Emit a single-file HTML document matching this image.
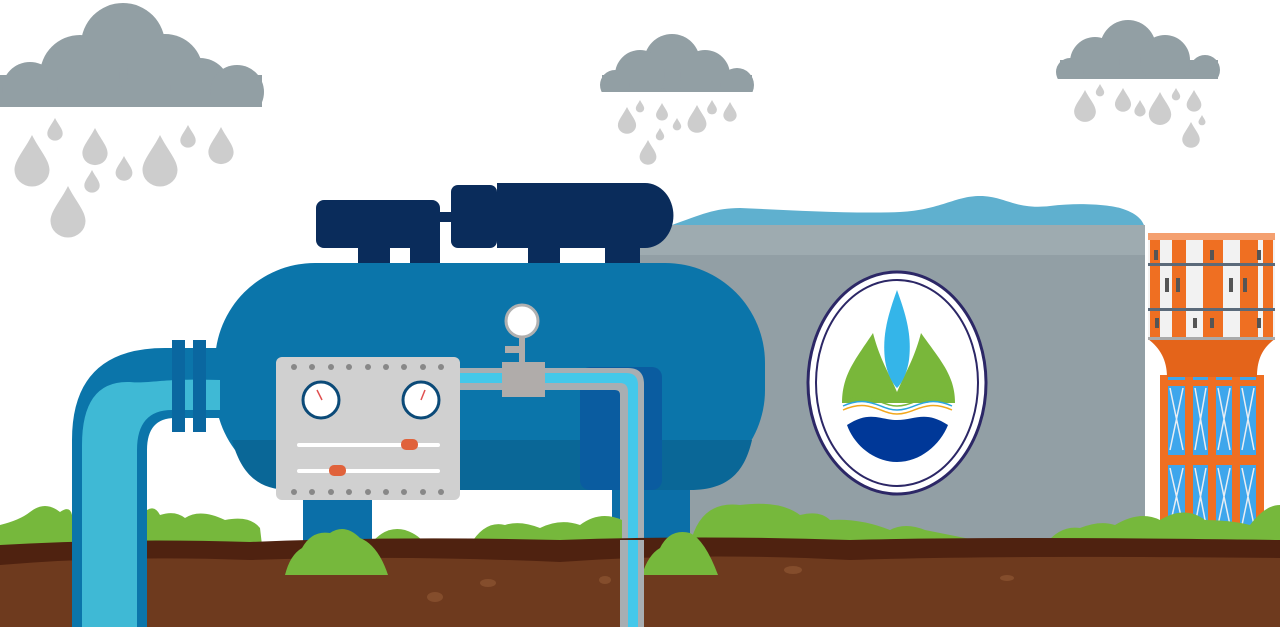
<!DOCTYPE html>
<html><head><meta charset="utf-8"><style>html,body{margin:0;padding:0;background:#fff}svg{display:block}</style></head>
<body>
<svg width="1280" height="627" viewBox="0 0 1280 627" xmlns="http://www.w3.org/2000/svg">
<defs>
<path id="d" d="M0,0 C0.15,0.3 0.35,0.5 0.35,0.7 A0.35,0.33 0 0 1 -0.35,0.7 C-0.35,0.5 -0.15,0.3 0,0Z" fill="#cdcdcd"/>
<clipPath id="c1"><rect x="0" y="0" width="270" height="107"/></clipPath>
<clipPath id="c2"><rect x="590" y="0" width="170" height="92"/></clipPath>
<clipPath id="c3"><rect x="1050" y="0" width="180" height="79"/></clipPath>
</defs>
<!-- clouds -->
<g fill="#929fa4">
<g clip-path="url(#c1)">
<rect x="0" y="75" width="262" height="32"/>
<circle cx="123" cy="45" r="42"/><circle cx="80" cy="75" r="40"/><circle cx="30" cy="90" r="28"/>
<circle cx="165" cy="72" r="38"/><circle cx="200" cy="88" r="30"/><circle cx="237" cy="92" r="27"/>
</g>
<g clip-path="url(#c2)">
<rect x="602" y="75" width="150" height="17"/>
<circle cx="672" cy="62" r="28"/><circle cx="640" cy="75" r="25"/><circle cx="615" cy="85" r="15"/><circle cx="705" cy="75" r="25"/><circle cx="737" cy="85" r="17"/>
</g>
<g clip-path="url(#c3)">
<rect x="1060" y="60" width="158" height="19"/>
<circle cx="1128" cy="48" r="28"/><circle cx="1095" cy="62" r="25"/><circle cx="1070" cy="72" r="14"/><circle cx="1165" cy="60" r="25"/><circle cx="1205" cy="70" r="15"/>
</g>
</g>
<g>
<use href="#d" transform="translate(55,118) scale(22)"/>
<use href="#d" transform="translate(32,135) scale(50)"/>
<use href="#d" transform="translate(95,128) scale(36)"/>
<use href="#d" transform="translate(92,170) scale(22)"/>
<use href="#d" transform="translate(124,156) scale(24)"/>
<use href="#d" transform="translate(160,135) scale(50)"/>
<use href="#d" transform="translate(188,125) scale(22)"/>
<use href="#d" transform="translate(221,127) scale(36)"/>
<use href="#d" transform="translate(68,186) scale(50)"/>
<use href="#d" transform="translate(640,100) scale(12)"/>
<use href="#d" transform="translate(627,107) scale(26)"/>
<use href="#d" transform="translate(662,103) scale(17)"/>
<use href="#d" transform="translate(697,105) scale(27)"/>
<use href="#d" transform="translate(677,118) scale(12)"/>
<use href="#d" transform="translate(712,100) scale(14)"/>
<use href="#d" transform="translate(730,102) scale(19)"/>
<use href="#d" transform="translate(660,128) scale(12)"/>
<use href="#d" transform="translate(648,140) scale(24)"/>
<use href="#d" transform="translate(1085,90) scale(31)"/>
<use href="#d" transform="translate(1100,84) scale(12)"/>
<use href="#d" transform="translate(1123,88) scale(23)"/>
<use href="#d" transform="translate(1140,100) scale(16)"/>
<use href="#d" transform="translate(1160,92) scale(32)"/>
<use href="#d" transform="translate(1176,88) scale(12)"/>
<use href="#d" transform="translate(1194,90) scale(21)"/>
<use href="#d" transform="translate(1202,115) scale(10)"/>
<use href="#d" transform="translate(1191,122) scale(25)"/>
</g>
<!-- gray water tank -->
<path d="M672,225 C700,215 715,208 740,208 C790,210 850,214 900,212 C940,210 955,196 980,196 C1005,196 1015,210 1050,206 C1080,202 1110,205 1120,208 C1140,214 1143,222 1145,228 Z" fill="#5fb0cf"/>
<rect x="640" y="225" width="505" height="320" fill="#929fa5"/>
<rect x="640" y="225" width="505" height="30" fill="#9eabb0"/>
<!-- logo -->
<ellipse cx="897" cy="383" rx="89" ry="111" fill="#fff" stroke="#2c2766" stroke-width="3"/>
<ellipse cx="897" cy="383" rx="81" ry="103" fill="none" stroke="#2c2766" stroke-width="2"/>
<path d="M873,333 C880,360 890,375 897,392 C904,375 914,360 921,333 C940,360 955,375 955,403 L842,403 C842,375 855,360 873,333Z" fill="#79b73a"/>
<path d="M897,290 C888,315 882,335 885,360 C888,380 897,388 897,388 C897,388 906,380 909,360 C912,335 906,315 897,290Z" fill="#34b5e9"/>
<path d="M845,405 C870,395 880,412 897,412 C915,412 925,395 952,405 L952,420 C940,440 920,455 897,455 C874,455 852,440 845,420Z" fill="#fff"/>
<path d="M847,425 C870,410 880,420 897,420 C915,420 925,410 948,425 C940,445 920,462 897,462 C874,462 854,445 847,425Z" fill="#003898"/>
<path d="M843,410 C870,398 880,414 897,414 C915,414 925,398 952,410" fill="none" stroke="#f2a81d" stroke-width="1.5"/>
<path d="M843,406 C870,394 880,410 897,410 C915,410 925,394 952,406" fill="none" stroke="#2aa5df" stroke-width="1.5"/>
<path d="M843,402 C870,390 880,406 897,406 C915,406 925,390 952,402" fill="none" stroke="#79b73a" stroke-width="1.5"/>
<!-- tower -->
<path d="M1167,375 L1257,375 L1265,530 L1160,530Z" fill="#3ea6ec"/>
<g fill="#ef6f22">
<rect x="1160" y="375" width="8" height="155"/><rect x="1185" y="375" width="8" height="155"/><rect x="1208" y="375" width="8" height="155"/><rect x="1232" y="375" width="8" height="155"/><rect x="1256" y="375" width="8" height="155"/>
<rect x="1163" y="455" width="100" height="10"/><rect x="1165" y="380" width="96" height="6"/>
</g>
<g stroke="#e9eef4" stroke-width="1.5">
<path d="M1170,388 L1183,450 M1183,388 L1170,450 M1195,388 L1206,450 M1206,388 L1195,450 M1218,388 L1230,450 M1230,388 L1218,450 M1242,388 L1254,450 M1254,388 L1242,450"/>
<path d="M1170,468 L1183,525 M1183,468 L1170,525 M1195,468 L1206,525 M1206,468 L1195,525 M1218,468 L1230,525 M1230,468 L1218,525 M1242,468 L1254,525 M1254,468 L1242,525"/>
</g>
<path d="M1148,339 L1275,339 C1262,348 1257,360 1257,377 L1167,377 C1167,360 1160,348 1148,339Z" fill="#e4641a"/>
<rect x="1148" y="240" width="127" height="100" fill="#f2f2f2"/>
<g fill="#ef6f22"><rect x="1150" y="240" width="10" height="100"/><rect x="1172" y="240" width="14" height="100"/><rect x="1203" y="240" width="20" height="100"/><rect x="1240" y="240" width="18" height="100"/><rect x="1263" y="240" width="10" height="100"/></g>
<rect x="1148" y="233" width="127" height="7" fill="#f4a070"/>
<rect x="1148" y="263" width="127" height="3" fill="#5b6a7a"/><rect x="1148" y="308" width="127" height="3" fill="#5b6a7a"/><rect x="1148" y="337" width="127" height="3" fill="#aaa"/>
<g fill="#555"><rect x="1154" y="250" width="4" height="10"/><rect x="1210" y="250" width="4" height="10"/><rect x="1257" y="250" width="4" height="10"/><rect x="1165" y="278" width="4" height="14"/><rect x="1176" y="278" width="4" height="14"/><rect x="1229" y="278" width="4" height="14"/><rect x="1243" y="278" width="4" height="14"/><rect x="1155" y="318" width="4" height="10"/><rect x="1193" y="318" width="4" height="10"/><rect x="1210" y="318" width="4" height="10"/><rect x="1257" y="318" width="4" height="10"/></g>
<!-- navy top pieces -->
<g fill="#0a2c5b">
<rect x="316" y="200" width="124" height="48" rx="8"/>
<rect x="451" y="185" width="46" height="63" rx="7"/>
<path d="M497,183 H645 A28,32 0 0 1 645,248 H497Z"/>
<rect x="430" y="212" width="80" height="10"/>
<rect x="358" y="240" width="32" height="28"/><rect x="410" y="240" width="30" height="28"/><rect x="528" y="240" width="32" height="28"/><rect x="605" y="240" width="35" height="28"/>
</g>
<!-- legs -->
<rect x="303" y="490" width="69" height="55" fill="#0b6fa8"/>
<rect x="612" y="470" width="78" height="75" fill="#0b6fa8"/>
<!-- tank -->
<rect x="215" y="263" width="550" height="227" rx="100" fill="#0b75aa"/>
<path d="M232,440 H752 C745,470 730,490 690,490 H290 C255,490 240,470 232,440Z" fill="#0a6797"/>
<rect x="580" y="367" width="82" height="123" rx="10" fill="#0a5ca0"/>
<!-- left pipe -->
<path d="M72,627 V440 Q72,348 165,348 H222 V418 H175 Q147,418 147,450 V627Z" fill="#0b75aa"/>
<path d="M82,627 V445 Q82,380 130,382 C150,384 160,378 220,380 V410 H172 Q137,410 137,450 V627Z" fill="#3fb9d5"/>
<rect x="172" y="340" width="13" height="92" fill="#0a67a0"/><rect x="193" y="340" width="13" height="92" fill="#0a67a0"/>
<!-- right pipe -->
<path d="M460,368 H628 Q644,368 644,384 V627 H620 V395 Q620,390 615,390 H460Z" fill="#a8aeb2"/>
<path d="M460,373 H626 Q638,373 638,385 V627 H628 V392 Q628,383 620,383 H460Z" fill="#44c8ea"/>
<!-- gauge & valve -->
<circle cx="522" cy="321" r="16" fill="#fff" stroke="#b0b0b0" stroke-width="3"/>
<rect x="519" y="336" width="6" height="28" fill="#b0acaa"/>
<rect x="505" y="346" width="16" height="7" fill="#b0acaa"/>
<rect x="502" y="362" width="43" height="35" fill="#b0acaa"/>
<!-- panel -->
<rect x="276" y="357" width="184" height="143" rx="6" fill="#d0d0d0"/>
<g fill="#888">
<circle cx="294" cy="367" r="3"/><circle cx="312" cy="367" r="3"/><circle cx="331" cy="367" r="3"/><circle cx="349" cy="367" r="3"/><circle cx="368" cy="367" r="3"/><circle cx="386" cy="367" r="3"/><circle cx="404" cy="367" r="3"/><circle cx="423" cy="367" r="3"/><circle cx="441" cy="367" r="3"/>
<circle cx="294" cy="492" r="3"/><circle cx="312" cy="492" r="3"/><circle cx="331" cy="492" r="3"/><circle cx="349" cy="492" r="3"/><circle cx="368" cy="492" r="3"/><circle cx="386" cy="492" r="3"/><circle cx="404" cy="492" r="3"/><circle cx="423" cy="492" r="3"/><circle cx="441" cy="492" r="3"/>
</g>
<circle cx="321" cy="400" r="18" fill="#fff" stroke="#0b4a78" stroke-width="3"/>
<circle cx="421" cy="400" r="18" fill="#fff" stroke="#0b4a78" stroke-width="3"/>
<path d="M317,390 L322,400 M425,390 L421,400" stroke="#e05050" stroke-width="1.5"/>
<rect x="297" y="443" width="143" height="4" rx="2" fill="#fff"/><rect x="297" y="469" width="143" height="4" rx="2" fill="#fff"/>
<rect x="401" y="439" width="17" height="11" rx="5" fill="#e0623b"/><rect x="329" y="465" width="17" height="11" rx="5" fill="#e0623b"/>
<!-- bushes -->
<g fill="#76b83c">
<path d="M0,545 V525 Q20,520 30,512 Q45,500 60,512 Q70,505 72,515 V545Z"/>
<path d="M147,545 V510 Q155,505 160,515 Q175,510 185,518 Q200,508 225,520 Q250,515 260,528 L262,545Z"/>
<path d="M370,545 Q385,525 405,530 Q420,535 425,545Z"/>
<path d="M470,545 Q485,520 505,525 Q520,520 540,528 Q560,518 580,525 Q600,510 622,520 V545Z"/>
<path d="M690,545 Q700,500 740,505 Q780,500 800,515 Q820,510 830,520 Q860,518 890,530 Q905,522 925,530 L1000,545Z"/>
<path d="M1045,545 Q1060,525 1080,528 Q1100,520 1115,525 Q1140,510 1160,520 Q1185,505 1205,520 Q1230,520 1250,525 Q1265,505 1280,505 V545Z"/>
</g>
<!-- ground -->
<path d="M0,545 Q120,538 250,542 Q400,536 560,540 Q700,535 850,540 Q1000,536 1280,540 V627 H0Z" fill="#4f2210"/>
<path d="M0,565 Q120,555 250,560 Q400,555 560,562 Q700,552 850,560 Q1000,555 1280,558 V627 H0Z" fill="#6e3a1e"/>
<g fill="#8a5230" opacity="0.8"><ellipse cx="435" cy="597" rx="8" ry="5"/><ellipse cx="488" cy="583" rx="8" ry="4"/><ellipse cx="793" cy="570" rx="9" ry="4"/><ellipse cx="1007" cy="578" rx="7" ry="3"/><ellipse cx="605" cy="580" rx="6" ry="4"/></g>
<!-- foreground bushes -->
<g fill="#76b83c">
<path d="M285,575 Q290,555 302,548 Q312,530 330,533 Q345,523 360,538 Q378,545 388,575Z"/>
<path d="M642,575 Q648,555 660,548 Q670,528 690,533 Q705,540 718,575Z"/>
</g>
<!-- pipes over ground redraw -->
<path d="M72,540 H147 V627 H72Z" fill="#0b75aa"/><rect x="82" y="540" width="55" height="87" fill="#3fb9d5"/>
<rect x="620" y="540" width="24" height="87" fill="#a8aeb2"/><rect x="628" y="540" width="10" height="87" fill="#44c8ea"/>
</svg>
</body></html>
